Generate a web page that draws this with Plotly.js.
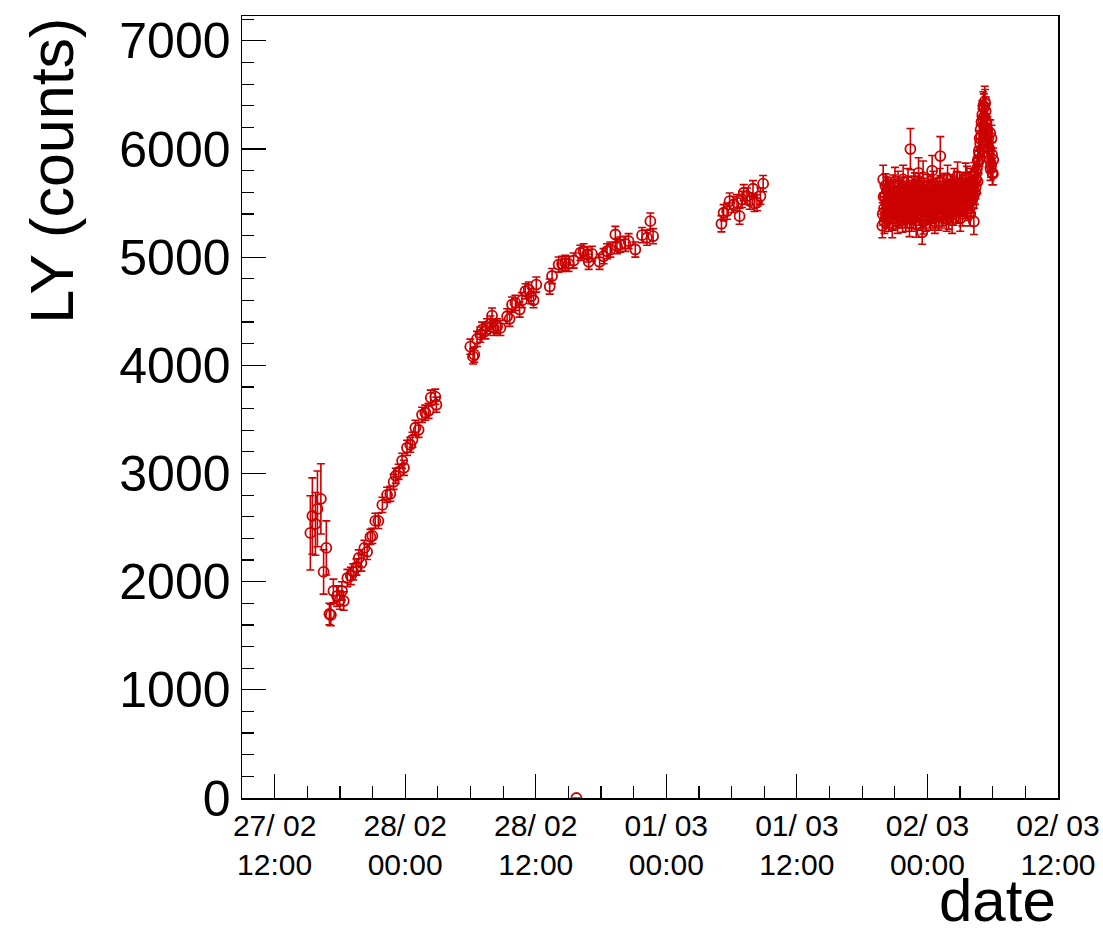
<!DOCTYPE html>
<html>
<head>
<meta charset="utf-8">
<script src="https://cdn.plot.ly/plotly-3.0.1.min.js"></script>
<style>html,body{margin:0;padding:0;background:#fff;}#chart{width:1103px;height:930px;}</style>
</head>
<body>
<div id="chart"></div>
<script>
// ---- data ----
const seg1Times = [
  '2017-02-27 15:17','2017-02-27 15:28','2017-02-27 15:45','2017-02-27 15:56','2017-02-27 16:15','2017-02-27 16:30',
  '2017-02-27 16:45','2017-02-27 17:02','2017-02-27 17:10','2017-02-27 17:24','2017-02-27 17:44','2017-02-27 17:59',
  '2017-02-27 18:11','2017-02-27 18:21','2017-02-27 18:41','2017-02-27 19:00','2017-02-27 19:14','2017-02-27 19:31',
  '2017-02-27 19:44','2017-02-27 19:58','2017-02-27 20:15','2017-02-27 20:30','2017-02-27 20:48','2017-02-27 20:59',
  '2017-02-27 21:15','2017-02-27 21:32','2017-02-27 21:54','2017-02-27 22:20','2017-02-27 22:38','2017-02-27 22:56',
  '2017-02-27 23:08','2017-02-27 23:24','2017-02-27 23:43','2017-02-27 23:53','2017-02-28 00:10','2017-02-28 00:28',
  '2017-02-28 00:40','2017-02-28 00:56','2017-02-28 01:14','2017-02-28 01:33','2017-02-28 01:51','2017-02-28 02:09',
  '2017-02-28 02:21','2017-02-28 02:46','2017-02-28 02:52'
];
const seg1LY = [
  2451,2608,2534,2673,2766,2090,
  2312,1701,1692,1914,1867,1830,
  1914,1821,2034,2053,2090,2136,
  2219,2173,2312,2275,2414,2423,
  2562,2562,2710,2803,2812,2923,
  2979,3016,3118,3053,3238,3266,
  3312,3423,3404,3543,3562,3580,
  3701,3710,3636
];
const seg1Err = [
  343,352,290,350,325,205,
  250,100,100,110,95,85,
  85,85,80,80,75,75,
  75,75,70,70,70,70,
  70,70,70,70,70,70,
  70,70,70,70,70,70,
  70,70,70,70,70,70,
  70,70,70
];

const zeroTimes = ['2017-02-28 15:44'];
const zeroLY = [0];
const zeroErr = [0];

const seg2Times = [
  '2017-02-28 05:59','2017-02-28 06:14','2017-02-28 06:21','2017-02-28 06:36','2017-02-28 06:54','2017-02-28 07:04',
  '2017-02-28 07:22','2017-02-28 07:31','2017-02-28 07:50','2017-02-28 07:59','2017-02-28 08:08','2017-02-28 08:27',
  '2017-02-28 08:45','2017-02-28 09:22','2017-02-28 09:36','2017-02-28 09:49','2017-02-28 10:08','2017-02-28 10:31',
  '2017-02-28 10:44','2017-02-28 11:03','2017-02-28 11:21','2017-02-28 11:34','2017-02-28 11:48','2017-02-28 12:03',
  '2017-02-28 13:17','2017-02-28 13:30','2017-02-28 14:06','2017-02-28 14:25','2017-02-28 14:43','2017-02-28 15:01',
  '2017-02-28 15:29','2017-02-28 16:06','2017-02-28 16:24','2017-02-28 16:43','2017-02-28 16:52','2017-02-28 17:10',
  '2017-02-28 17:52','2017-02-28 18:14','2017-02-28 18:33','2017-02-28 18:51','2017-02-28 19:19','2017-02-28 19:28',
  '2017-02-28 19:46','2017-02-28 20:14','2017-02-28 20:32','2017-02-28 21:09','2017-02-28 21:46','2017-02-28 22:13',
  '2017-02-28 22:32','2017-02-28 22:47'
];
const seg2LY = [
  4173,4083,4099,4244,4284,4330,
  4315,4361,4386,4460,4346,4361,
  4346,4454,4430,4562,4578,4516,
  4602,4685,4701,4639,4602,4747,
  4729,4826,4932,4939,4948,4939,
  4969,5041,5055,5025,4957,5031,
  4957,5009,5055,5071,5210,5102,
  5117,5124,5148,5071,5204,5180,
  5333,5194
];
const seg2Err = [
  70,70,70,70,70,70,
  70,70,70,70,70,70,
  70,70,70,70,70,70,
  70,70,70,70,70,70,
  70,70,70,70,70,70,
  70,70,70,70,70,70,
  70,70,70,70,75,70,
  70,70,70,70,70,70,
  75,70
];

const seg3Times = [
  '2017-03-01 05:04','2017-03-01 05:16','2017-03-01 05:35','2017-03-01 05:49','2017-03-01 06:11','2017-03-01 06:30',
  '2017-03-01 06:44','2017-03-01 06:58','2017-03-01 07:07','2017-03-01 07:25','2017-03-01 07:40','2017-03-01 07:58',
  '2017-03-01 08:06','2017-03-01 08:20','2017-03-01 08:39','2017-03-01 08:54'
];
const seg3LY = [
  5309,5411,5426,5518,5488,5504,
  5379,5534,5596,5565,5518,5633,
  5497,5504,5565,5680
];
const seg3Err = [
  75,75,75,75,75,75,
  75,75,75,75,75,75,
  75,75,75,75
];

// dense run of 01/03 evening - 02/03 morning (first set of readings)
const seg4Times = [
  '2017-03-01 19:51','2017-03-01 19:56','2017-03-01 20:01','2017-03-01 20:06','2017-03-01 20:11','2017-03-01 20:16',
  '2017-03-01 20:21','2017-03-01 20:26','2017-03-01 20:31','2017-03-01 20:36','2017-03-01 20:41','2017-03-01 20:46',
  '2017-03-01 20:51','2017-03-01 20:56','2017-03-01 21:01','2017-03-01 21:06','2017-03-01 21:11','2017-03-01 21:16',
  '2017-03-01 21:21','2017-03-01 21:26','2017-03-01 21:31','2017-03-01 21:36','2017-03-01 21:41','2017-03-01 21:46',
  '2017-03-01 21:51','2017-03-01 21:56','2017-03-01 22:01','2017-03-01 22:06','2017-03-01 22:11','2017-03-01 22:16',
  '2017-03-01 22:21','2017-03-01 22:26','2017-03-01 22:31','2017-03-01 22:36','2017-03-01 22:41','2017-03-01 22:46',
  '2017-03-01 22:51','2017-03-01 22:56','2017-03-01 23:01','2017-03-01 23:06','2017-03-01 23:11','2017-03-01 23:16',
  '2017-03-01 23:21','2017-03-01 23:26','2017-03-01 23:31','2017-03-01 23:36','2017-03-01 23:41','2017-03-01 23:46',
  '2017-03-01 23:51','2017-03-01 23:56','2017-03-02 00:01','2017-03-02 00:06','2017-03-02 00:11','2017-03-02 00:16',
  '2017-03-02 00:21','2017-03-02 00:26','2017-03-02 00:31','2017-03-02 00:36','2017-03-02 00:41','2017-03-02 00:46',
  '2017-03-02 00:51','2017-03-02 00:56','2017-03-02 01:01','2017-03-02 01:06','2017-03-02 01:11','2017-03-02 01:16',
  '2017-03-02 01:21','2017-03-02 01:26','2017-03-02 01:31','2017-03-02 01:36','2017-03-02 01:41','2017-03-02 01:46',
  '2017-03-02 01:51','2017-03-02 01:56','2017-03-02 02:01','2017-03-02 02:06','2017-03-02 02:11','2017-03-02 02:16',
  '2017-03-02 02:21','2017-03-02 02:26','2017-03-02 02:31','2017-03-02 02:36','2017-03-02 02:41','2017-03-02 02:46',
  '2017-03-02 02:51','2017-03-02 02:56','2017-03-02 03:01','2017-03-02 03:06','2017-03-02 03:11','2017-03-02 03:16',
  '2017-03-02 03:21','2017-03-02 03:26','2017-03-02 03:31','2017-03-02 03:36','2017-03-02 03:41','2017-03-02 03:46',
  '2017-03-02 03:51','2017-03-02 03:56','2017-03-02 04:01','2017-03-02 04:06','2017-03-02 04:11','2017-03-02 04:16',
  '2017-03-02 04:21',
  '2017-03-02 04:26','2017-03-02 04:31','2017-03-02 04:36','2017-03-02 04:41','2017-03-02 04:46','2017-03-02 04:51',
  '2017-03-02 04:56','2017-03-02 05:01','2017-03-02 05:06','2017-03-02 05:11','2017-03-02 05:16','2017-03-02 05:21',
  '2017-03-02 05:26','2017-03-02 05:31','2017-03-02 05:36','2017-03-02 05:41','2017-03-02 05:46','2017-03-02 05:51',
  '2017-03-02 05:56','2017-03-02 06:01'
];
const seg4LY = [
  5290,5720,5450,5560,5380,5620,
  5480,5350,5590,5420,5510,5300,
  5650,5470,5700,5390,5540,5330,
  5600,5450,5520,5370,5580,5720,
  5420,5500,5350,5630,5460,5540,
  5310,6000,5480,5600,5400,5520,
  5660,5380,5560,5450,5780,5500,
  5360,5620,5230,5740,5470,5550,
  5340,5600,5430,5520,5380,5640,
  5480,5800,5410,5560,5330,5600,
  5470,5530,5370,5620,5935,5450,
  5540,5400,5660,5490,5580,5350,
  5720,5460,5610,5420,5550,5340,
  5640,5500,5590,5430,5680,5750,
  5520,5620,5360,5580,5480,5660,
  5540,5600,5740,5470,5620,5550,
  5680,5400,5600,5520,5650,5330,
  5690,
  5650,5780,5700,5880,5950,6050,
  6120,6000,6280,6380,6440,6350,
  6250,6180,6100,6000,6150,5850,
  5950,5770
];
const seg4Err = [
  110,130,110,100,110,120,
  100,110,110,100,100,120,
  110,100,130,100,110,110,
  100,100,110,100,110,130,
  100,100,110,110,100,100,
  120,190,100,110,100,100,
  120,110,100,110,140,100,
  110,110,110,150,100,110,
  100,110,100,100,110,110,
  100,140,100,110,110,100,
  100,110,120,110,180,100,
  100,110,110,100,100,110,
  130,100,110,100,100,120,
  110,100,100,110,110,130,
  100,100,120,110,100,100,
  110,100,130,110,100,100,
  110,110,100,110,100,120,
  120,
  110,110,110,110,110,120,
  120,110,120,130,140,130,
  120,120,120,110,120,110,
  110,100
];

// dense run, second set of readings (interleaved)
const seg5Times = [
  '2017-03-01 19:53','2017-03-01 19:58','2017-03-01 20:03','2017-03-01 20:08','2017-03-01 20:13','2017-03-01 20:18',
  '2017-03-01 20:23','2017-03-01 20:28','2017-03-01 20:33','2017-03-01 20:38','2017-03-01 20:43','2017-03-01 20:48',
  '2017-03-01 20:53','2017-03-01 20:58','2017-03-01 21:03','2017-03-01 21:08','2017-03-01 21:13','2017-03-01 21:18',
  '2017-03-01 21:23','2017-03-01 21:28','2017-03-01 21:33','2017-03-01 21:38','2017-03-01 21:43','2017-03-01 21:48',
  '2017-03-01 21:53','2017-03-01 21:58','2017-03-01 22:03','2017-03-01 22:08','2017-03-01 22:13','2017-03-01 22:18',
  '2017-03-01 22:23','2017-03-01 22:28','2017-03-01 22:33','2017-03-01 22:38','2017-03-01 22:43','2017-03-01 22:48',
  '2017-03-01 22:53','2017-03-01 22:58','2017-03-01 23:03','2017-03-01 23:08','2017-03-01 23:13','2017-03-01 23:18',
  '2017-03-01 23:23','2017-03-01 23:28','2017-03-01 23:33','2017-03-01 23:38','2017-03-01 23:43','2017-03-01 23:48',
  '2017-03-01 23:53','2017-03-01 23:58','2017-03-02 00:03','2017-03-02 00:08','2017-03-02 00:13','2017-03-02 00:18',
  '2017-03-02 00:23','2017-03-02 00:28','2017-03-02 00:33','2017-03-02 00:38','2017-03-02 00:43','2017-03-02 00:48',
  '2017-03-02 00:53','2017-03-02 00:58','2017-03-02 01:03','2017-03-02 01:08','2017-03-02 01:13','2017-03-02 01:18',
  '2017-03-02 01:23','2017-03-02 01:28','2017-03-02 01:33','2017-03-02 01:38','2017-03-02 01:43','2017-03-02 01:48',
  '2017-03-02 01:53','2017-03-02 01:58','2017-03-02 02:03','2017-03-02 02:08','2017-03-02 02:13','2017-03-02 02:18',
  '2017-03-02 02:23','2017-03-02 02:28','2017-03-02 02:33','2017-03-02 02:38','2017-03-02 02:43','2017-03-02 02:48',
  '2017-03-02 02:53','2017-03-02 02:58','2017-03-02 03:03','2017-03-02 03:08','2017-03-02 03:13','2017-03-02 03:18',
  '2017-03-02 03:23','2017-03-02 03:28','2017-03-02 03:33','2017-03-02 03:38','2017-03-02 03:43','2017-03-02 03:48',
  '2017-03-02 03:53','2017-03-02 03:58','2017-03-02 04:03','2017-03-02 04:08','2017-03-02 04:13','2017-03-02 04:18',
  '2017-03-02 04:23',
  '2017-03-02 04:28','2017-03-02 04:33','2017-03-02 04:38','2017-03-02 04:43','2017-03-02 04:48','2017-03-02 04:53',
  '2017-03-02 04:58','2017-03-02 05:03','2017-03-02 05:08','2017-03-02 05:13','2017-03-02 05:18','2017-03-02 05:23',
  '2017-03-02 05:28','2017-03-02 05:33','2017-03-02 05:38','2017-03-02 05:43','2017-03-02 05:48','2017-03-02 05:53',
  '2017-03-02 05:58','2017-03-02 06:03'
];
const seg5LY = [
  5400,5560,5330,5660,5500,5420,
  5610,5460,5380,5580,5440,5530,
  5360,5600,5480,5550,5420,5680,
  5380,5560,5470,5630,5340,5510,
  5600,5440,5560,5380,5700,5470,
  5590,5420,5350,5520,5640,5460,
  5540,5300,5610,5490,5400,5660,
  5520,5450,5580,5330,5620,5480,
  5560,5410,5650,5470,5540,5360,
  5600,5490,5680,5430,5560,5380,
  5620,5500,5450,5700,5520,5380,
  5600,5470,5560,5420,5660,5500,
  5580,5370,5520,5650,5460,5600,
  5400,5700,5530,5610,5480,5580,
  5420,5670,5550,5620,5400,5590,
  5500,5660,5560,5720,5450,5600,
  5540,5700,5480,5620,5560,5750,
  5600,
  5720,5820,5900,5980,6100,6180,
  6250,6320,6400,6300,6420,6200,
  6150,6050,5950,5900,5820,6100,
  5780,5900
];
const seg5Err = [
  105,110,110,110,100,105,
  110,100,110,105,100,105,
  110,110,100,105,100,115,
  110,105,100,110,110,100,
  105,100,110,105,120,100,
  105,100,110,100,110,100,
  105,115,110,100,105,115,
  100,105,110,115,110,100,
  105,100,115,100,105,110,
  110,100,115,105,105,110,
  110,100,105,120,100,110,
  105,100,110,105,115,100,
  110,110,100,115,105,110,
  105,120,100,110,100,105,
  105,115,100,110,110,105,
  100,115,105,120,110,100,
  105,120,100,110,105,125,
  110,
  110,110,115,115,120,120,
  120,125,130,125,130,125,
  120,120,115,115,110,120,
  110,110
];

const tickDates = ['2017-02-27 12:00','2017-02-28 00:00','2017-02-28 12:00','2017-03-01 00:00','2017-03-01 12:00','2017-03-02 00:00','2017-03-02 12:00'];
const tickLabels = ['27/ 02<br>12:00','28/ 02<br>00:00','28/ 02<br>12:00','01/ 03<br>00:00','01/ 03<br>12:00','02/ 03<br>00:00','02/ 03<br>12:00'];

// ---- build ----
const xs = [].concat(seg1Times, zeroTimes, seg2Times, seg3Times, seg4Times, seg5Times);
const ys = [].concat(seg1LY, zeroLY, seg2LY, seg3LY, seg4LY, seg5LY);
const es = [].concat(seg1Err, zeroErr, seg2Err, seg3Err, seg4Err, seg5Err);

const RED = '#cc0000';
const FONT = 'Liberation Sans, Arial, Helvetica, sans-serif';

const trace = {
  type: 'scatter', mode: 'markers',
  x: xs, y: ys,
  marker: {symbol: 'circle-open', size: 10, color: RED, line: {width: 1.8, color: RED}},
  error_y: {type: 'data', array: es, visible: true, color: RED, thickness: 1.6, width: 4},
  hoverinfo: 'x+y', showlegend: false
};

const layout = {
  width: 1103, height: 930,
  margin: {l: 242, r: 45, t: 16, b: 132, pad: 0},
  paper_bgcolor: '#ffffff', plot_bgcolor: '#ffffff',
  font: {family: FONT, color: '#000'},
  showlegend: false,
  xaxis: {
    type: 'date',
    range: ['2017-02-27 09:00', '2017-03-02 12:00'],
    tickmode: 'array', tickvals: tickDates, ticktext: tickLabels,
    ticks: 'inside', ticklen: 24, tickwidth: 1.2, tickcolor: '#000',
    tickfont: {size: 30, family: FONT, color: '#000'},
    minor: {tick0: '2017-02-27 00:00', dtick: 10800000, ticks: 'inside', ticklen: 12, tickwidth: 1.2, tickcolor: '#000', showgrid: false},
    showline: true, linecolor: '#000', linewidth: 1.5, mirror: true,
    showgrid: false, zeroline: false, fixedrange: true
  },
  yaxis: {
    range: [0, 7230],
    tickmode: 'linear', tick0: 0, dtick: 1000,
    ticks: 'inside', ticklen: 24, tickwidth: 1.2, tickcolor: '#000',
    tickfont: {size: 50, family: FONT, color: '#000'},
    minor: {tick0: 0, dtick: 200, ticks: 'inside', ticklen: 12, tickwidth: 1.2, tickcolor: '#000', showgrid: false},
    showline: true, linecolor: '#000', linewidth: 1.5, mirror: true,
    showgrid: false, zeroline: false, fixedrange: true
  },
  annotations: [
    {text: 'LY (counts)', xref: 'paper', yref: 'paper', x: -0.233, y: 0.8018, xanchor: 'center', yanchor: 'middle',
     textangle: -90, showarrow: false, font: {size: 61, family: FONT, color: '#000'}},
    {text: 'date', xref: 'paper', yref: 'paper', x: 1, y: -0.1317, xanchor: 'right', yanchor: 'middle',
     showarrow: false, font: {size: 60, family: FONT, color: '#000'}}
  ]
};

Plotly.newPlot('chart', [trace], layout, {displayModeBar: false, staticPlot: true});
</script>
</body>
</html>
